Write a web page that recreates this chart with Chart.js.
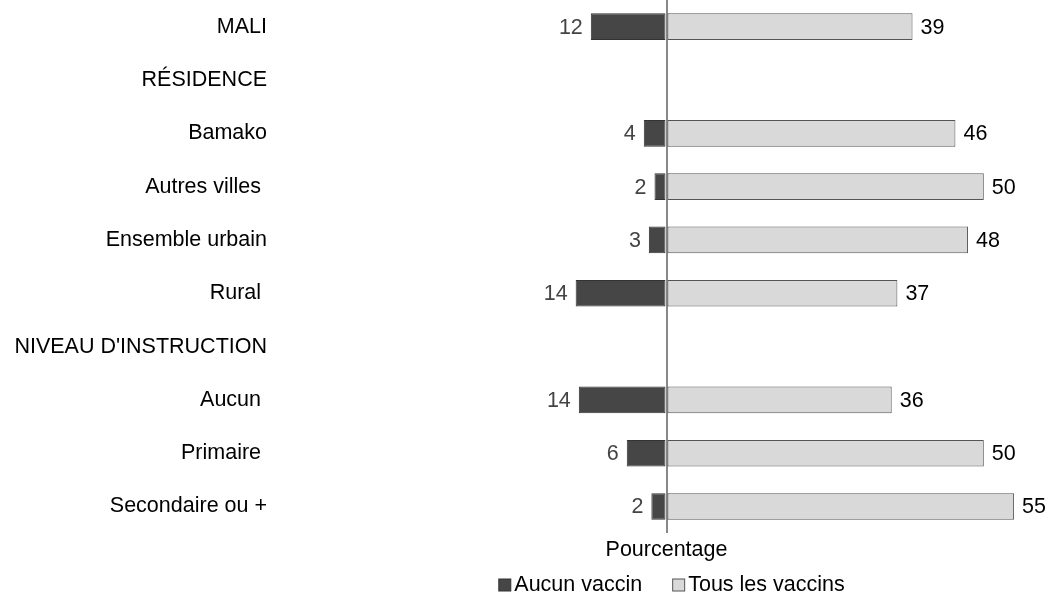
<!DOCTYPE html>
<html>
<head>
<meta charset="utf-8">
<script src="https://cdn.jsdelivr.net/npm/chart.js@4"></script>
<style>
  body { margin: 0; background: #fff; }
  #wrap { width: 1048px; height: 593px; }
</style>
</head>
<body>
<div id="wrap"><canvas id="chart"></canvas></div>
<script>
// --- Data ---
const categories = ['MALI', 'RÉSIDENCE', 'Bamako', 'Autres villes ', 'Ensemble urbain', 'Rural ',
  "NIVEAU D'INSTRUCTION", 'Aucun ', 'Primaire ', 'Secondaire ou +'];
const aucunVaccin = [12, null, 3.6, 1.9, 2.8, 14.4, null, 13.9, 6.3, 2.4];
const tousVaccins = [39, null, 45.8, 50.3, 47.8, 36.6, null, 35.7, 50.3, 55.1];
const aucunLabels = ['12', '', '4', '2', '3', '14', '', '14', '6', '2'];
const tousLabels = ['39', '', '46', '50', '48', '37', '', '36', '50', '55'];

const FONT = '"Liberation Sans", Arial, sans-serif';
const FSIZE = 21.5;

// value labels at bar ends
const endLabels = {
  id: 'endLabels',
  afterDatasetsDraw(chart) {
    const ctx = chart.ctx;
    ctx.save();
    ctx.font = FSIZE + 'px ' + FONT;
    ctx.textBaseline = 'middle';
    chart.getDatasetMeta(0).data.forEach((bar, i) => {
      if (!aucunLabels[i]) return;
      ctx.fillStyle = '#444';
      ctx.textAlign = 'right';
      ctx.fillText(aucunLabels[i], bar.x - 8, bar.y + 1);
    });
    chart.getDatasetMeta(1).data.forEach((bar, i) => {
      if (!tousLabels[i]) return;
      ctx.fillStyle = '#000';
      ctx.textAlign = 'left';
      ctx.fillText(tousLabels[i], bar.x + 8, bar.y + 1);
    });
    ctx.restore();
  }
};

// small legend under the axis title: box glued to its text
const boxLegend = {
  id: 'boxLegend',
  afterDraw(chart) {
    const ctx = chart.ctx;
    const area = chart.chartArea;
    const items = chart.data.datasets.map(ds => ({
      text: ds.label, fill: ds.backgroundColor, stroke: ds.borderColor
    }));
    const box = 13, gap = 3, itemGap = 30;
    ctx.save();
    ctx.font = FSIZE + 'px ' + FONT;
    ctx.textBaseline = 'middle';
    ctx.textAlign = 'left';
    const widths = items.map(it => box + gap + ctx.measureText(it.text).width);
    const total = widths.reduce((a, b) => a + b, 0) + itemGap * (items.length - 1);
    let x = (area.left + area.right) / 2 + 5 - total / 2;
    const y = 585;
    items.forEach((it, i) => {
      ctx.fillStyle = it.fill;
      ctx.fillRect(x + 0.5, y - box / 2 + 0.5, box - 1, box - 1);
      ctx.strokeStyle = it.stroke;
      ctx.lineWidth = 1;
      ctx.strokeRect(x + 0.5, y - box / 2 + 0.5, box - 1, box - 1);
      ctx.fillStyle = '#000';
      ctx.fillText(it.text, x + box + gap, y);
      x += widths[i] + itemGap;
    });
    ctx.restore();
  }
};

new Chart(document.getElementById('chart'), {
  type: 'bar',
  data: {
    labels: categories,
    datasets: [{
      label: 'Aucun vaccin',
      data: aucunVaccin.map(v => v === null ? null : -v),
      backgroundColor: '#464646',
      borderColor: '#333',
      borderWidth: 1,
      borderSkipped: false,
      barPercentage: 0.5,
      categoryPercentage: 1
    }, {
      label: 'Tous les vaccins',
      data: tousVaccins,
      backgroundColor: '#d9d9d9',
      borderColor: '#555',
      borderWidth: 1,
      borderSkipped: false,
      barPercentage: 0.5,
      categoryPercentage: 1
    }]
  },
  options: {
    indexAxis: 'y',
    responsive: true,
    maintainAspectRatio: false,
    animation: false,
    layout: { autoPadding: false, padding: { top: 0, right: 3, bottom: 30, left: 0 } },
    scales: {
      x: {
        stacked: true,
        min: -60,
        max: 60,
        ticks: { display: false, stepSize: 60 },
        border: { display: false },
        grid: {
          drawTicks: false,
          lineWidth: 2,
          color: c => c.tick && c.tick.value === 0 ? '#888' : 'rgba(0,0,0,0)'
        },
        title: {
          display: true,
          text: 'Pourcentage',
          color: '#000',
          font: { family: FONT, size: FSIZE },
          padding: { top: 4, bottom: 0 }
        }
      },
      y: {
        stacked: true,
        border: { display: false },
        grid: { display: false, drawTicks: false },
        ticks: { color: '#000', padding: 21, font: { family: FONT, size: FSIZE } },
        afterFit: s => {
          s.width = 288;
          // no extra room above/below the first and last rows
          s.paddingTop = 0;
          s.paddingBottom = 0;
        }
      }
    },
    plugins: {
      tooltip: { enabled: false },
      legend: { display: false }
    }
  },
  plugins: [endLabels, boxLegend]
});
</script>
</body>
</html>
